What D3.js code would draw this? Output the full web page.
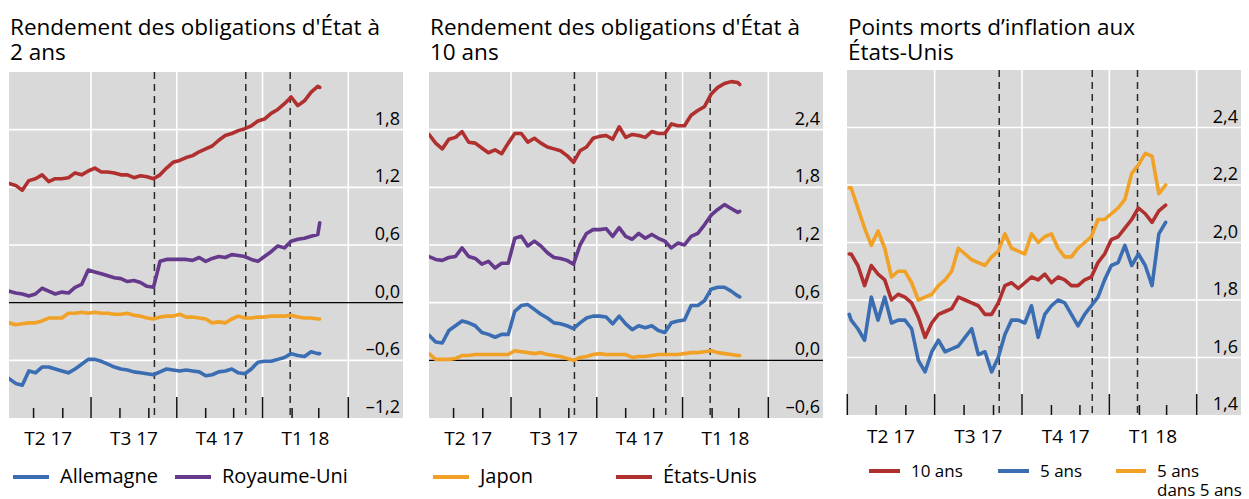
<!DOCTYPE html>
<html>
<head>
<meta charset="utf-8">
<script src="https://cdn.jsdelivr.net/npm/d3@7"></script>
<style>
  body { margin: 0; background: #fff; }
  svg { display: block; }
  text { font-family: "Open Sans", sans-serif; fill: #000; }
</style>
</head>
<body>
<svg id="chart" width="1249" height="499"></svg>
<script>
// weekly observations (first point sits just before the plot edge)
var dates = ["2017-04-03","2017-04-05","2017-04-12","2017-04-19","2017-04-26","2017-05-03","2017-05-10","2017-05-17","2017-05-24","2017-05-31",
  "2017-06-07","2017-06-14","2017-06-21","2017-06-28","2017-07-05","2017-07-12","2017-07-19","2017-07-26","2017-08-02","2017-08-09",
  "2017-08-16","2017-08-23","2017-08-30","2017-09-06","2017-09-13","2017-09-20","2017-09-27","2017-10-04","2017-10-11","2017-10-18",
  "2017-10-25","2017-11-01","2017-11-08","2017-11-15","2017-11-22","2017-11-29","2017-12-06","2017-12-13","2017-12-20","2017-12-27",
  "2018-01-03","2018-01-10","2018-01-17","2018-01-24","2018-01-31","2018-02-07","2018-02-14","2018-02-21","2018-02-28","2018-03-02"];

// 2-year yields
var us2 = [1.24,1.24,1.22,1.17,1.27,1.29,1.33,1.26,1.29,1.29,1.30,1.35,1.33,1.37,1.40,1.36,1.36,1.35,1.33,1.33,1.30,1.32,1.31,1.29,1.33,1.40,1.46,1.48,1.51,1.53,1.57,1.60,1.63,1.69,1.74,1.76,1.79,1.81,1.84,1.89,1.91,1.97,2.01,2.07,2.14,2.05,2.10,2.19,2.25,2.24];
var uk2 = [0.12,0.12,0.10,0.09,0.07,0.09,0.15,0.12,0.09,0.11,0.10,0.16,0.19,0.34,0.32,0.30,0.28,0.26,0.25,0.22,0.23,0.21,0.17,0.16,0.43,0.45,0.45,0.45,0.45,0.44,0.47,0.43,0.46,0.48,0.47,0.50,0.49,0.48,0.45,0.43,0.48,0.53,0.59,0.57,0.64,0.66,0.67,0.69,0.71,0.83];
var jp2 = [-0.20,-0.21,-0.23,-0.22,-0.21,-0.21,-0.19,-0.16,-0.16,-0.16,-0.11,-0.11,-0.10,-0.11,-0.10,-0.11,-0.11,-0.12,-0.12,-0.11,-0.13,-0.14,-0.16,-0.17,-0.15,-0.14,-0.14,-0.12,-0.15,-0.15,-0.16,-0.17,-0.21,-0.20,-0.21,-0.17,-0.14,-0.16,-0.16,-0.15,-0.15,-0.14,-0.14,-0.14,-0.13,-0.15,-0.16,-0.16,-0.17,-0.17];
var de2 = [-0.78,-0.79,-0.84,-0.86,-0.71,-0.73,-0.67,-0.67,-0.69,-0.71,-0.73,-0.69,-0.64,-0.59,-0.59,-0.61,-0.64,-0.67,-0.69,-0.70,-0.72,-0.73,-0.74,-0.75,-0.72,-0.69,-0.70,-0.71,-0.70,-0.71,-0.72,-0.76,-0.75,-0.72,-0.71,-0.69,-0.73,-0.74,-0.69,-0.62,-0.61,-0.61,-0.59,-0.57,-0.53,-0.55,-0.56,-0.51,-0.53,-0.53];

// 10-year yields
var us10 = [2.36,2.35,2.26,2.20,2.30,2.32,2.38,2.27,2.26,2.21,2.16,2.19,2.15,2.26,2.36,2.36,2.27,2.31,2.26,2.22,2.20,2.18,2.13,2.06,2.18,2.22,2.31,2.33,2.34,2.30,2.43,2.32,2.35,2.34,2.32,2.38,2.36,2.36,2.46,2.44,2.44,2.55,2.60,2.64,2.77,2.84,2.88,2.90,2.89,2.87];
var uk10 = [1.09,1.08,1.05,1.04,1.07,1.08,1.17,1.08,1.06,1.00,1.03,0.96,1.01,1.01,1.27,1.29,1.19,1.24,1.19,1.12,1.07,1.06,1.04,1.00,1.20,1.32,1.36,1.36,1.37,1.29,1.38,1.29,1.26,1.32,1.27,1.31,1.27,1.24,1.17,1.22,1.20,1.29,1.32,1.41,1.51,1.57,1.62,1.58,1.54,1.55];
var jp10 = [0.07,0.07,0.01,0.01,0.01,0.02,0.05,0.05,0.06,0.06,0.06,0.06,0.06,0.06,0.10,0.09,0.08,0.07,0.08,0.06,0.05,0.04,0.02,0.00,0.03,0.04,0.06,0.07,0.06,0.06,0.06,0.06,0.03,0.04,0.04,0.05,0.06,0.06,0.06,0.06,0.07,0.08,0.08,0.09,0.10,0.08,0.07,0.06,0.05,0.05];
var de10 = [0.27,0.26,0.19,0.18,0.31,0.36,0.41,0.39,0.36,0.29,0.27,0.24,0.27,0.27,0.51,0.57,0.58,0.53,0.48,0.44,0.39,0.38,0.36,0.33,0.39,0.44,0.46,0.46,0.45,0.38,0.46,0.38,0.32,0.36,0.34,0.36,0.31,0.29,0.39,0.41,0.42,0.57,0.57,0.62,0.74,0.76,0.76,0.72,0.67,0.66];

// US inflation breakevens
var be10 = [1.96,1.96,1.92,1.85,1.92,1.89,1.87,1.80,1.82,1.81,1.79,1.74,1.67,1.72,1.75,1.76,1.77,1.81,1.80,1.79,1.78,1.75,1.75,1.79,1.85,1.86,1.84,1.86,1.88,1.87,1.89,1.86,1.88,1.87,1.85,1.85,1.87,1.88,1.93,1.96,2.01,2.02,2.05,2.08,2.12,2.10,2.07,2.11,2.13,null];
var be5 = [1.75,1.73,1.70,1.66,1.81,1.73,1.81,1.72,1.73,1.73,1.70,1.59,1.55,1.62,1.66,1.62,1.63,1.64,1.67,1.70,1.61,1.62,1.55,1.60,1.68,1.73,1.73,1.72,1.78,1.67,1.75,1.78,1.80,1.79,1.75,1.71,1.75,1.78,1.81,1.87,1.92,1.93,1.99,1.92,1.96,1.92,1.85,2.03,2.07,null];
var be5y5 = [2.19,2.19,2.12,2.05,1.99,2.04,1.98,1.88,1.90,1.90,1.86,1.80,1.81,1.82,1.85,1.87,1.90,1.98,1.96,1.94,1.93,1.92,1.95,1.97,2.03,1.98,1.97,1.96,2.03,2.00,2.02,2.03,1.98,1.95,1.95,1.98,2.00,2.02,2.08,2.08,2.10,2.12,2.15,2.24,2.27,2.31,2.30,2.17,2.20,null];

var quarterStarts = ["2017-04-01","2017-07-01","2017-10-01","2018-01-01","2018-04-01","2018-07-01"];
var quarterLabels = ["T2 17","T3 17","T4 17","T1 18"];
var monthStarts = ["2017-04-01","2017-05-01","2017-06-01","2017-07-01","2017-08-01","2017-09-01","2017-10-01","2017-11-01","2017-12-01","2018-01-01","2018-02-01","2018-03-01","2018-04-01"];
var eventDates = ["2017-09-07","2017-12-14","2018-01-30"];

var yTicks2 = [-1.2,-0.6,0,0.6,1.2,1.8];
var yTicks10 = [-0.6,0,0.6,1.2,1.8,2.4];
var yTicksBe = [1.4,1.6,1.8,2.0,2.2,2.4];

var red = "#b0302f", blue = "#3a6db1", purple = "#65398b", orange = "#f0a126";

var parse = d3.timeParse("%Y-%m-%d");
var fr = d3.formatLocale({decimal: ",", thousands: " ", grouping: [3], currency: ["", ""], minus: "\u2013"});
var fmt = fr.format(".1f");

var svg = d3.select("#chart");

function panel(cfg) {
  var g = svg.append("g").attr("transform", "translate(" + cfg.left + "," + cfg.top + ")");
  var w = cfg.width, h = cfg.height;

  var qd = quarterStarts.map(parse);
  var x = d3.scaleTime().domain(qd).range(qd.map(function (d, i) { return cfg.qOff + i * cfg.qW; }));
  var y = d3.scaleLinear().domain(cfg.yDomain).range([h, 0]);

  var clipId = "clip" + cfg.left;
  g.append("clipPath").attr("id", clipId).append("rect").attr("width", w).attr("height", h);

  g.append("rect").attr("width", w).attr("height", h).attr("fill", "#d9d9d9");

  // white grid
  g.selectAll(".hg").data(cfg.yTicks.filter(function (v) { return v !== 0 && y(v) > 1 && y(v) < h - 1; }))
    .enter().append("line")
    .attr("x1", 0).attr("x2", w).attr("y1", function (d) { return y(d); }).attr("y2", function (d) { return y(d); })
    .attr("stroke", "#fff").attr("stroke-width", 1.6);
  g.selectAll(".vg").data(qd.filter(function (d) { return x(d) > 1 && x(d) < w; }))
    .enter().append("line")
    .attr("x1", function (d) { return x(d); }).attr("x2", function (d) { return x(d); })
    .attr("y1", 0).attr("y2", h)
    .attr("stroke", "#fff").attr("stroke-width", 1.6);

  if (cfg.yDomain[0] < 0) {
    g.append("line").attr("x1", 0).attr("x2", w).attr("y1", y(0)).attr("y2", y(0))
      .attr("stroke", "#000").attr("stroke-width", 1.4);
  }

  // event markers
  g.selectAll(".ev").data(eventDates.map(parse)).enter().append("line")
    .attr("x1", function (d) { return x(d); }).attr("x2", function (d) { return x(d); })
    .attr("y1", 0).attr("y2", h)
    .attr("stroke", "#2b2b2b").attr("stroke-width", 1.5).attr("stroke-dasharray", "7,5");

  // series
  var line = d3.line()
    .defined(function (d) { return d[1] !== null; })
    .x(function (d) { return x(d[0]); })
    .y(function (d) { return y(d[1]); });
  var lines = g.append("g").attr("clip-path", "url(#" + clipId + ")");
  cfg.series.forEach(function (s) {
    var pts = dates.map(function (d, i) { return [parse(d), s.values[i]]; });
    lines.append("path").datum(pts).attr("d", line)
      .attr("fill", "none").attr("stroke", s.color).attr("stroke-width", 3.6)
      .attr("stroke-linejoin", "round").attr("stroke-linecap", "round");
  });

  // month ticks at bottom
  g.selectAll(".mt").data(monthStarts.map(parse).filter(function (d) { return x(d) >= 0 && x(d) <= w; }))
    .enter().append("line")
    .attr("x1", function (d) { return x(d); }).attr("x2", function (d) { return x(d); })
    .attr("y1", function (d) { return d.getMonth() % 3 === 0 ? h - 21 : h - 10; })
    .attr("y2", h)
    .attr("stroke", "#111").attr("stroke-width", 1.5);

  // y labels
  g.selectAll(".yl").data(cfg.yTicks).enter().append("text")
    .attr("x", w - 3).attr("y", function (d) { return y(d) - 5; })
    .attr("text-anchor", "end").attr("font-size", 18)
    .text(function (d) { return fmt(d); });

  // quarter labels
  g.selectAll(".xl").data(quarterLabels).enter().append("text")
    .attr("x", function (d, i) { return (x(qd[i]) + x(qd[i + 1])) / 2; })
    .attr("y", cfg.xLabelY - cfg.top)
    .attr("text-anchor", "middle").attr("font-size", 19)
    .text(function (d) { return d; });

  // title, one text per line
  cfg.title.forEach(function (s, i) {
    svg.append("text").attr("x", cfg.left + 1).attr("y", 35 + i * 25).attr("font-size", 22.5).text(s);
  });

  // legend
  cfg.legend.forEach(function (l) {
    svg.append("line").attr("x1", l.x).attr("x2", l.x + l.len).attr("y1", l.y).attr("y2", l.y)
      .attr("stroke", l.color).attr("stroke-width", 4);
    l.text.forEach(function (s, i) {
      svg.append("text").attr("x", l.x + l.len + 11).attr("y", l.y + 6 + i * 19).attr("font-size", l.size).text(s);
    });
  });
}

panel({
  left: 9, top: 72, width: 394, height: 346, qOff: -3.7, qW: 85.75, xLabelY: 445,
  yDomain: [-1.2, 2.4], yTicks: yTicks2,
  title: ["Rendement des obligations d'\u00c9tat \u00e0", "2 ans"],
  series: [{values: jp2, color: orange}, {values: de2, color: blue}, {values: uk2, color: purple}, {values: us2, color: red}],
  legend: [
    {x: 13, y: 477, len: 36, color: blue, text: ["Allemagne"], size: 20},
    {x: 175, y: 477, len: 36, color: purple, text: ["Royaume-Uni"], size: 20}
  ]
});

panel({
  left: 429, top: 72, width: 394, height: 346, qOff: -3.7, qW: 85.75, xLabelY: 445,
  yDomain: [-0.6, 3.0], yTicks: yTicks10,
  title: ["Rendement des obligations d'\u00c9tat \u00e0", "10 ans"],
  series: [{values: jp10, color: orange}, {values: de10, color: blue}, {values: uk10, color: purple}, {values: us10, color: red}],
  legend: [
    {x: 433, y: 477, len: 36, color: orange, text: ["Japon"], size: 20},
    {x: 616, y: 477, len: 36, color: red, text: ["\u00c9tats-Unis"], size: 20}
  ]
});

panel({
  left: 847, top: 70, width: 394, height: 345, qOff: 0.3, qW: 87.35, xLabelY: 443,
  yDomain: [1.4, 2.6], yTicks: yTicksBe,
  title: ["Points morts d\u2019inflation aux", "\u00c9tats-Unis"],
  series: [{values: be5y5, color: orange}, {values: be5, color: blue}, {values: be10, color: red}],
  legend: [
    {x: 869, y: 471, len: 31, color: red, text: ["10 ans"], size: 17},
    {x: 998, y: 471, len: 31, color: blue, text: ["5 ans"], size: 17},
    {x: 1116, y: 471, len: 30, color: orange, text: ["5 ans", "dans 5 ans"], size: 17}
  ]
});
</script>
</body>
</html>
